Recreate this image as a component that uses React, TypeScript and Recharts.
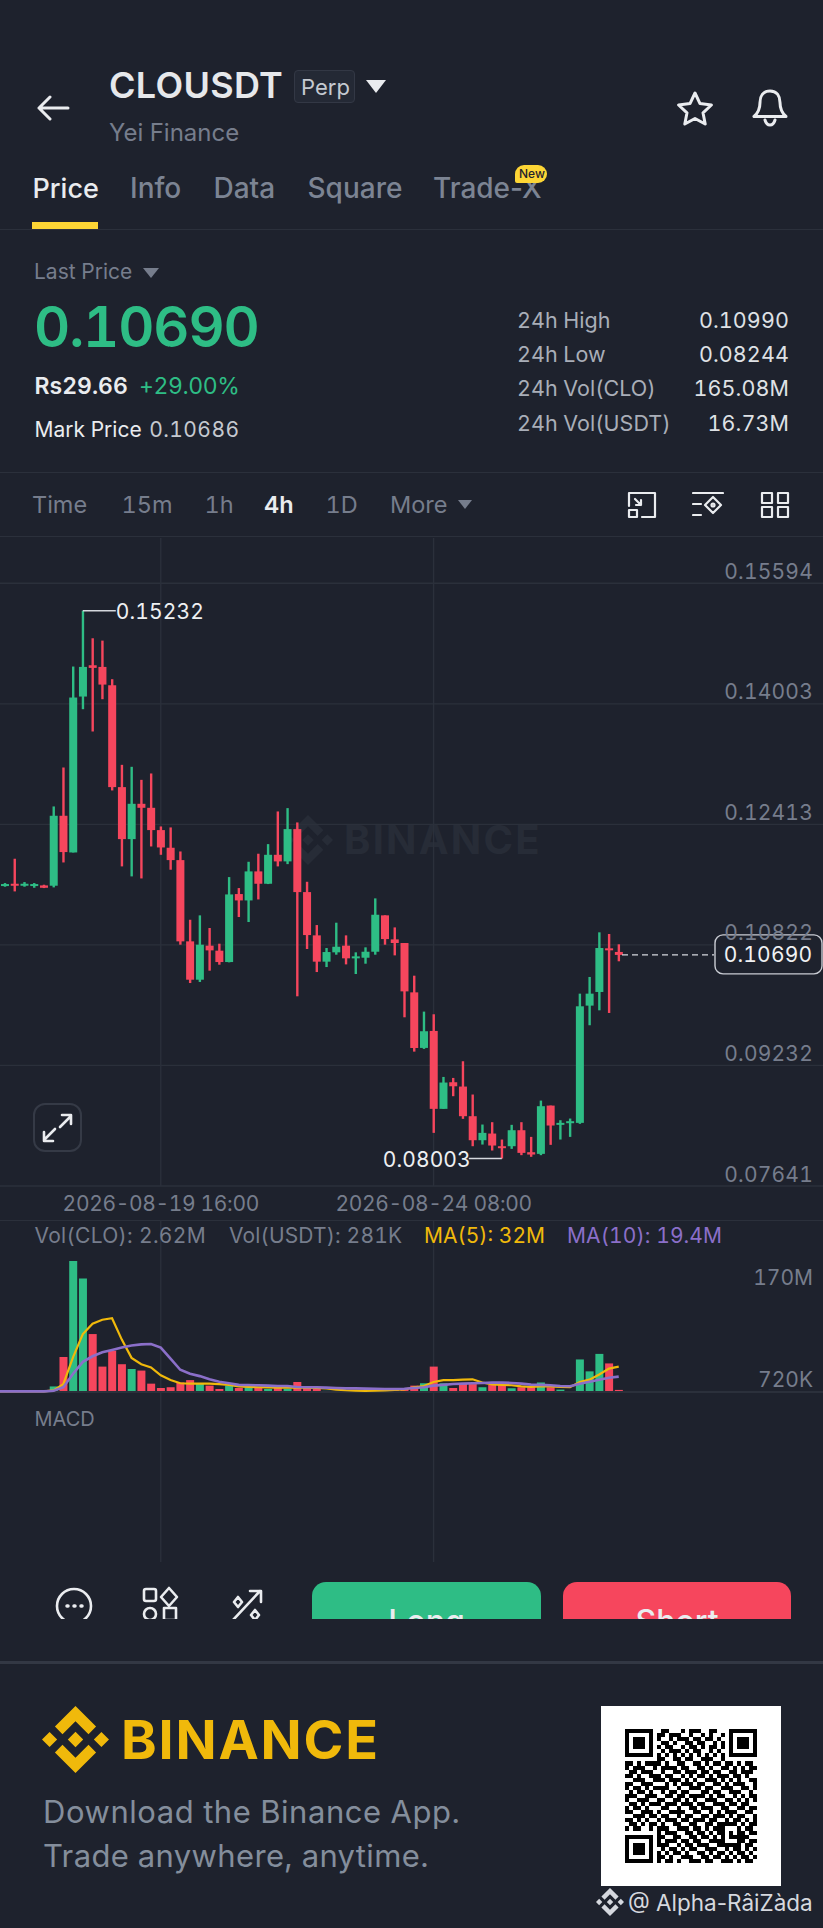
import React from "react";
import {
  Bar,
  CartesianGrid,
  Cell,
  ComposedChart,
  Line,
  ReferenceDot,
  ReferenceLine,
  XAxis,
  YAxis,
} from "recharts";

const BG = "#1e222d";
const GRID = "#2b303b";
const GREEN = "#2ebd85";
const RED = "#f6465d";
const MUTED = "#767d8c";
const FONT = "Inter, 'Noto Sans', sans-serif";

const times = [
  "08-16 20:00",
  "08-17 00:00", "08-17 04:00", "08-17 08:00", "08-17 12:00", "08-17 16:00", "08-17 20:00",
  "08-18 00:00", "08-18 04:00", "08-18 08:00", "08-18 12:00", "08-18 16:00", "08-18 20:00",
  "08-19 00:00", "08-19 04:00", "08-19 08:00", "08-19 12:00", "08-19 16:00", "08-19 20:00",
  "08-20 00:00", "08-20 04:00", "08-20 08:00", "08-20 12:00", "08-20 16:00", "08-20 20:00",
  "08-21 00:00", "08-21 04:00", "08-21 08:00", "08-21 12:00", "08-21 16:00", "08-21 20:00",
  "08-22 00:00", "08-22 04:00", "08-22 08:00", "08-22 12:00", "08-22 16:00", "08-22 20:00",
  "08-23 00:00", "08-23 04:00", "08-23 08:00", "08-23 12:00", "08-23 16:00", "08-23 20:00",
  "08-24 00:00", "08-24 04:00", "08-24 08:00", "08-24 12:00", "08-24 16:00", "08-24 20:00",
  "08-25 00:00", "08-25 04:00", "08-25 08:00", "08-25 12:00", "08-25 16:00", "08-25 20:00",
  "08-26 00:00", "08-26 04:00", "08-26 08:00", "08-26 12:00", "08-26 16:00", "08-26 20:00",
  "08-27 00:00", "08-27 04:00", "08-27 08:00", "08-27 12:00",
];

const opens = [
  0.11603,
  0.11603, 0.11629, 0.11607, 0.11603, 0.11607, 0.11603, 0.12526, 0.12042, 0.14099, 0.14512, 0.1449, 0.14248,
  0.12904, 0.12218, 0.12684, 0.12631, 0.12337, 0.12104, 0.11941, 0.10869, 0.10363, 0.10812, 0.10746, 0.10596,
  0.11493, 0.11409, 0.11792, 0.11629, 0.12011, 0.11924, 0.1235, 0.11519, 0.10948, 0.10601, 0.10724, 0.10812,
  0.10649, 0.10653, 0.10732, 0.11212, 0.10895, 0.10847, 0.10196, 0.09463, 0.09687, 0.08659, 0.0901, 0.08953,
  0.08562, 0.08245, 0.08333, 0.08166, 0.08166, 0.08377, 0.08087, 0.08065, 0.08702, 0.08452, 0.08474, 0.08474,
  0.10021, 0.10201, 0.10777, 0.10729,
];
const highs = [
  0.11638,
  0.11638, 0.11959, 0.11651, 0.11638, 0.11616, 0.12649, 0.13163, 0.14495, 0.15232, 0.14868, 0.14837, 0.14328,
  0.13198, 0.13172, 0.13, 0.13084, 0.12385, 0.12372, 0.12055, 0.11154, 0.11212, 0.11045, 0.10838, 0.11717,
  0.11572, 0.11919, 0.12025, 0.12152, 0.12583, 0.12627, 0.12438, 0.11655, 0.11084, 0.10781, 0.11115, 0.10948,
  0.10724, 0.1079, 0.11436, 0.11212, 0.11053, 0.10847, 0.10416, 0.09942, 0.09907, 0.0908, 0.09067, 0.09287,
  0.08848, 0.08452, 0.08483, 0.08254, 0.08448, 0.08483, 0.08289, 0.08768, 0.08702, 0.08509, 0.08531, 0.10179,
  0.10399, 0.10988, 0.10966, 0.1083,
];
const lows = [
  0.1159,
  0.1159, 0.11528, 0.1159, 0.11576, 0.11572, 0.11581, 0.1191, 0.12042, 0.13932, 0.13638, 0.14064, 0.1286,
  0.11858, 0.11726, 0.11699, 0.12121, 0.12011, 0.11814, 0.10825, 0.10319, 0.10333, 0.10482, 0.10561, 0.10592,
  0.1119, 0.11124, 0.11422, 0.11625, 0.11858, 0.11888, 0.10144, 0.10768, 0.10464, 0.1053, 0.10693, 0.10565,
  0.10438, 0.10574, 0.10693, 0.10825, 0.10684, 0.09867, 0.09414, 0.0945, 0.08342, 0.08659, 0.08826, 0.08527,
  0.08166, 0.08188, 0.08109, 0.08003, 0.08131, 0.08048, 0.08026, 0.08048, 0.08184, 0.08254, 0.08289, 0.08461,
  0.09762, 0.09959, 0.09924, 0.10606,
];
const closes = [
  0.11625,
  0.11625, 0.11603, 0.11629, 0.11625, 0.11576, 0.12526, 0.12047, 0.14086, 0.1449, 0.14477, 0.14257, 0.12904,
  0.12218, 0.12684, 0.12631, 0.12337, 0.12108, 0.11941, 0.10869, 0.10363, 0.10825, 0.1075, 0.10596, 0.11488,
  0.11409, 0.11792, 0.11629, 0.12011, 0.11924, 0.1235, 0.11519, 0.10952, 0.10601, 0.10728, 0.10798, 0.10645,
  0.10671, 0.10732, 0.1122, 0.10899, 0.10847, 0.10209, 0.09462, 0.09683, 0.08659, 0.09006, 0.08957, 0.08562,
  0.08245, 0.08342, 0.08175, 0.0814, 0.08377, 0.08078, 0.08056, 0.08694, 0.08439, 0.08474, 0.08496, 0.10012,
  0.10179, 0.10781, 0.10751, 0.1069,
];

// volume in millions
const volumes = [
  0.7, 0.7, 0.8, 0.7, 0.7, 0.8, 7, 44, 165, 143, 73, 32, 52, 35, 29, 27, 10.5, 5, 6, 12, 15, 10.5, 8, 3.8, 8, 5, 6, 6,
  3.8, 5, 4.2, 12.6, 6, 3.8, 1.4, 1.2, 1, 0.9, 1, 2.4, 3, 3, 5, 8, 11, 32, 11, 5, 10.5, 10, 6, 9, 9, 4.6, 6, 6, 12, 6, 3,
  1, 41, 26, 48, 36, 2.62,
];
const ma5 = [
  0.8, 0.8, 0.8, 0.8, 0.8, 0.8, 2, 10, 44, 73, 86, 91, 93, 66, 43, 35, 31, 21, 15, 11, 10.5, 10.5, 10.5, 10, 9, 7, 6.5,
  6, 5.8, 5.5, 5.5, 5.5, 5.5, 5.2, 4.5, 3, 2.2, 1.8, 1.5, 1.6, 2, 2.6, 3.2, 6, 7.5, 12.6, 15, 15, 15.5, 16, 12, 9.7, 9,
  8.5, 7, 6.3, 7, 7, 6.5, 6, 12.5, 15.5, 22, 29.5, 32,
];
const ma10 = [
  0.8, 0.8, 0.8, 0.8, 0.8, 0.8, 1.5, 6, 23, 38, 45, 50, 53, 56, 58.5, 60, 60.5, 56, 42, 28, 23, 20, 16, 13, 11, 9, 8.8,
  8.4, 8, 7.6, 7.6, 6.3, 6, 6, 5.5, 5, 4.6, 4.6, 4.2, 4, 3.8, 3.8, 4, 5, 6, 8, 9, 10, 10.5, 11, 11.4, 11.8, 11.8, 11.4,
  10.5, 9.3, 9, 8.4, 7.6, 7.2, 10.5, 13, 15.5, 18, 19.4,
];

const priceTicks = [0.15594, 0.14003, 0.12413, 0.10822, 0.09232, 0.07641];
const volumeTicks = [0.72, 170];
const volumeTickLabels = ["720K", "170M"];
const timeTicks = [times[17], times[45]];
const lastPrice = 0.1069;
const highPoint = { time: times[9], price: 0.15232 };
const lowPoint = { time: times[52], price: 0.08003 };

const tabs = ["Price", "Info", "Data", "Square", "Trade-X"];
const tabX = [32.5, 130, 213.5, 307.5, 433];
const frames = ["Time", "15m", "1h", "4h", "1D", "More"];
const frameX = [32, 121.5, 204.5, 264, 325.5, 390];
const statLabels = ["24h High", "24h Low", "24h Vol(CLO)", "24h Vol(USDT)"];
const statValues = ["0.10990", "0.08244", "165.08M", "16.73M"];
const statY = [321, 355, 389, 424];

const qrRows = [
  "111111100110001011100110001111111",
  "100000101101110010010100101000001",
  "101110101001011101101101001011101",
  "101110100110100110110010101011101",
  "101110101011001011010110101011101",
  "100000100101110101100101001000001",
  "111111101010101010101010101111111",
  "000000001100110110011100100000000",
  "110101111010011001101011011010110",
  "101110010111101100110100110101011",
  "011011100100110111011011001101110",
  "110100111011001010110101110110100",
  "001110011101110101001110101010011",
  "110011100010101110110011010111001",
  "101101011110010011101100111001101",
  "010110100101101100011011001110010",
  "111001110011011011110101100101011",
  "100111001100110101001110011010101",
  "011010111011101110110011101101100",
  "101101000110010011011100110011011",
  "110011101001111001100101011100110",
  "001110110110010110011011101011001",
  "110101001011101101110110010110101",
  "011010110100110011001101111101011",
  "101100101110011101101011100010110",
  "000000001011100110110101101011011",
  "111111101100110011011010101111100",
  "100000101011101101100111100011011",
  "101110101110010110111001111110110",
  "101110100101101011001110010110101",
  "101110101010110100110101101011010",
  "100000101101001110011011010101101",
  "111111101011010011101100111010110",
];

const candles = times.map((time, i) => ({
  time,
  open: opens[i],
  high: highs[i],
  low: lows[i],
  close: closes[i],
  volume: volumes[i],
  ma5: ma5[i],
  ma10: ma10[i],
}));

const LOGO =
  "M38.73 53.2L63.3 28.63l24.58 24.58 14.3-14.3L63.3 0 24.43 38.88z M0 63.31l14.3-14.3 14.3 14.3-14.3 14.3z M38.73 73.41l24.57 24.57 24.58-24.57 14.3 14.29-38.88 38.91-38.87-38.88z M98 63.31l14.3-14.3 14.31 14.3-14.31 14.3z M77.83 63.3L63.3 48.76 52.56 59.5l-1.24 1.23-2.54 2.54 14.52 14.5 14.53-14.54z";

function Txt({ x, y, size, color, weight = 400, right, spacing, plain, children }: any) {
  const pos = right !== undefined ? { right: 823 - right } : { left: x };
  return (
    <div
      style={{
        position: "absolute",
        ...pos,
        top: y,
        transform: "translateY(-50%)",
        fontFamily: FONT,
        fontSize: size,
        fontWeight: weight,
        color,
        letterSpacing: spacing,
        lineHeight: 1.2,
        whiteSpace: "nowrap",
        fontVariantNumeric: plain ? "normal" : "tabular-nums",
      }}
    >
      {children}
    </div>
  );
}

function Rule({ y, color = GRID, h = 1 }: any) {
  return <div style={{ position: "absolute", left: 0, top: y, width: 823, height: h, background: color }} />;
}

function Icon({ x, y, w, h, view, stroke = "#eaecef", sw = 2.4, children }: any) {
  return (
    <svg
      style={{ position: "absolute", left: x, top: y }}
      width={w}
      height={h}
      viewBox={view}
      fill="none"
      stroke={stroke}
      strokeWidth={sw}
      strokeLinecap="round"
      strokeLinejoin="round"
    >
      {children}
    </svg>
  );
}

function Candle(props: any) {
  const { x, y, width, height, payload } = props;
  const span = payload.high - payload.low;
  const px = span ? height / span : 0;
  const top = y + (payload.high - Math.max(payload.open, payload.close)) * px;
  const bodyH = Math.max(Math.abs(payload.open - payload.close) * px, 2);
  const color = payload.close >= payload.open ? GREEN : RED;
  return (
    <g>
      <rect x={x + width / 2 - 1.2} y={y} width={2.4} height={height} fill={color} />
      <rect x={x} y={top} width={width} height={bodyH} fill={color} />
    </g>
  );
}

function PriceTick({ y, payload }: any) {
  return (
    <text
      x={813}
      y={y - 12}
      textAnchor="end"
      dominantBaseline="central"
      fontSize={21}
      letterSpacing={0.2}
      fill={MUTED}
      fontFamily={FONT}
    >
      {payload.value.toFixed(5)}
    </text>
  );
}

function VolumeTick({ y, payload, index }: any) {
  return (
    <text
      x={813}
      y={index === 0 ? y - 12 : y + 20}
      textAnchor="end"
      dominantBaseline="central"
      fontSize={21}
      fill={MUTED}
      fontFamily={FONT}
    >
      {volumeTickLabels[index]}
    </text>
  );
}

function TimeTick({ x, y, payload }: any) {
  return (
    <text
      x={x}
      y={y + 9}
      textAnchor="middle"
      dominantBaseline="central"
      fontSize={21}
      letterSpacing={-0.35}
      fill={MUTED}
      fontFamily={FONT}
    >
      {"2026-" + payload.value}
    </text>
  );
}

function LastPriceMark({ y1 }: any) {
  return (
    <g>
      <line x1={622} x2={714} y1={y1} y2={y1} stroke="#d5d8de" strokeWidth={1.4} strokeDasharray="6 4" />
      <rect x={715} y={y1 - 20} width={107} height={39} rx={8} fill={BG} stroke="#c9ccd3" strokeWidth={1.4} />
      <text
        x={768}
        y={y1}
        textAnchor="middle"
        dominantBaseline="central"
        fontSize={21}
        letterSpacing={0.2}
        fill="#f0f1f3"
        fontFamily={FONT}
      >
        {lastPrice.toFixed(5)}
      </text>
    </g>
  );
}

function HighMark({ cx, cy }: any) {
  return (
    <g>
      <line x1={cx} x2={cx + 33} y1={cy} y2={cy} stroke="#d5d8de" strokeWidth={1.4} />
      <text
        x={cx + 33}
        y={cy + 1}
        dominantBaseline="central"
        fontSize={21}
        letterSpacing={0.1}
        fill="#eef0f2"
        fontFamily={FONT}
      >
        {highPoint.price.toFixed(5)}
      </text>
    </g>
  );
}

function LowMark({ cx, cy }: any) {
  return (
    <g>
      <line x1={cx} x2={cx - 33} y1={cy} y2={cy} stroke="#d5d8de" strokeWidth={1.4} />
      <text
        x={cx - 31}
        y={cy + 1}
        textAnchor="end"
        dominantBaseline="central"
        fontSize={21}
        letterSpacing={0.1}
        fill="#eef0f2"
        fontFamily={FONT}
      >
        {lowPoint.price.toFixed(5)}
      </text>
    </g>
  );
}

function PriceChart() {
  return (
    <div style={{ position: "absolute", left: 0, top: 538 }}>
      <ComposedChart width={823} height={688} data={candles} margin={{ top: 0, right: 0, bottom: 0, left: 0 }}>
        <CartesianGrid stroke={GRID} strokeWidth={1.4} syncWithTicks />
        <XAxis
          dataKey="time"
          ticks={timeTicks}
          interval={0}
          height={40}
          axisLine={false}
          tickLine={false}
          tick={<TimeTick />}
          padding={{ left: -9.74, right: 199.4 }}
        />
        <YAxis
          orientation="right"
          mirror
          domain={[0.07641, 0.16191]}
          ticks={priceTicks}
          interval={0}
          axisLine={false}
          tickLine={false}
          tick={<PriceTick />}
        />
        <Bar
          dataKey={(d: any) => [d.low, d.high]}
          barSize={8}
          shape={<Candle />}
          isAnimationActive={false}
        />
        <ReferenceDot x={highPoint.time} y={highPoint.price} shape={<HighMark />} />
        <ReferenceDot x={lowPoint.time} y={lowPoint.price} shape={<LowMark />} />
        <ReferenceLine y={lastPrice} shape={<LastPriceMark />} />
      </ComposedChart>
    </div>
  );
}

function VolumeChart() {
  return (
    <div style={{ position: "absolute", left: 0, top: 1220 }}>
      <ComposedChart width={823} height={342} data={candles} margin={{ top: 0, right: 0, bottom: 0, left: 0 }}>
        <CartesianGrid stroke={GRID} strokeWidth={1.4} horizontal={false} syncWithTicks />
        <XAxis dataKey="time" ticks={timeTicks} interval={0} height={0} hide padding={{ left: -9.74, right: 199.4 }} />
        <YAxis
          orientation="right"
          mirror
          domain={[-214.2, 216.7]}
          ticks={volumeTicks}
          interval={0}
          axisLine={false}
          tickLine={false}
          tick={<VolumeTick />}
        />
        <ReferenceLine y={0} stroke={GRID} strokeWidth={2} />
        <Bar dataKey="volume" barSize={8} isAnimationActive={false}>
          {candles.map((c) => (
            <Cell key={c.time} fill={c.close >= c.open ? GREEN : RED} />
          ))}
        </Bar>
        <Line dataKey="ma5" stroke="#f0b90b" strokeWidth={2.2} dot={false} isAnimationActive={false} />
        <Line dataKey="ma10" stroke="#8b6fc9" strokeWidth={2.6} dot={false} isAnimationActive={false} />
      </ComposedChart>
    </div>
  );
}

function Header() {
  return (
    <>
      <Icon x={36} y={95} w={34} h={26} view="0 0 34 26" sw={3}>
        <path d="M32 13H3M14 2L3 13l11 11" />
      </Icon>
      <Txt x={109} y={86} size={36} weight={600} color="#e6e8eb" spacing={0.3}>CLOUSDT</Txt>
      <div
        style={{
          position: "absolute",
          left: 294,
          top: 70,
          width: 61,
          height: 33,
          background: "#242935",
          border: "1px solid #333845",
          borderRadius: 4,
          boxSizing: "border-box",
        }}
      />
      <Txt x={301} y={87} size={22} color="#c5c9d0">Perp</Txt>
      <svg style={{ position: "absolute", left: 366, top: 80 }} width={20} height={13}>
        <path d="M0 0H20L10 13z" fill="#eaecef" />
      </svg>
      <Txt x={109} y={133} size={24} color={MUTED}>Yei Finance</Txt>
      <Icon x={676} y={90} w={38} h={36} view="0 0 38 36" sw={3}>
        <path d="M19 3l5 10.6 11.4 1.4-8.4 7.8 2.2 11.2L19 28.5 8.8 34l2.2-11.2L2.6 15 14 13.6z" />
      </Icon>
      <Icon x={751} y={88} w={38} h={40} view="0 0 38 40" sw={3}>
        <path d="M19 3c-7 0-10 5.5-10 11.5 0 7-2.5 11-6 14h32c-3.5-3-6-7-6-14C29 8.500 26 3 19 3zM14 32c1 3.500 3 5 5 5s4-1.500 5-5" />
      </Icon>

      {tabs.map((t, i) => (
        <Txt key={t} plain x={tabX[i]} y={189} size={i === 0 ? 27 : 28} weight={500} color={i === 0 ? "#eaecef" : "#7c8493"}>{t}</Txt>
      ))}
      <div style={{ position: "absolute", left: 515, top: 165, width: 32, height: 18, borderRadius: "9px 9px 9px 2px", background: "#fcd535" }} />
      <Txt x={519} y={174} size={12} weight={500} color="#1e222d">New</Txt>
      <div style={{ position: "absolute", left: 32, top: 222, width: 66, height: 7, background: "#fcd535" }} />
      <Rule y={229} />

      <Txt x={34} y={272} size={21} color={MUTED}>Last Price</Txt>
      <svg style={{ position: "absolute", left: 143, top: 268 }} width={16} height={10}>
        <path d="M0 0H16L8 10z" fill={MUTED} />
      </svg>
      <Txt x={34} y={328} size={56} weight={600} color={GREEN} spacing={-1.1}>0.10690</Txt>
      <Txt x={34.500} y={387} size={23} weight={600} color="#eaecef">Rs29.66</Txt>
      <Txt x={139} y={387} size={23} spacing={-0.4} color={GREEN}>+29.00%</Txt>
      <Txt x={34.500} y={430} size={21} color="#eaecef">
        Mark Price <span style={{ color: "#c5c9d0", marginLeft: 2, letterSpacing: 0.4 }}>0.10686</span>
      </Txt>
      {statLabels.map((s, i) => (
        <React.Fragment key={s}>
          <Txt x={517} y={statY[i]} size={21.5} color="#a9aeb8">{s}</Txt>
          <Txt right={789} y={statY[i]} size={21.5} spacing={0.1} color="#dfe1e5">{statValues[i]}</Txt>
        </React.Fragment>
      ))}
      <Rule y={472} />

      {frames.map((f, i) => (
        <Txt key={f} x={frameX[i]} y={505} size={23.5} weight={f === "4h" ? 600 : 400} color={f === "4h" ? "#eaecef" : MUTED}>{f}</Txt>
      ))}
      <svg style={{ position: "absolute", left: 458, top: 500 }} width={14} height={9}>
        <path d="M0 0H14L7 9z" fill={MUTED} />
      </svg>
      <Icon x={627} y={491} w={30} h={28} view="0 0 30 28" sw={2.2}>
        <path d="M2 15V2H28V26H15" />
        <rect x="2" y="19" width="8" height="7" />
        <path d="M8 8l6 6M14 9v5H9" />
      </Icon>
      <Icon x={692} y={491} w={32} h={28} view="0 0 32 28" sw={2.2}>
        <path d="M1 2H31M1 13H9M1 24H9" />
        <path d="M21 6l8 8-8 8-8-8z" />
        <circle cx="21" cy="14" r="1.500" />
      </Icon>
      <Icon x={760} y={491} w={30} h={28} view="0 0 30 28" sw={2.2}>
        <rect x="2" y="2" width="10" height="10" />
        <rect x="18" y="2" width="10" height="10" />
        <rect x="2" y="16" width="10" height="10" />
        <rect x="18" y="16" width="10" height="10" />
      </Icon>
      <Rule y={536} />
    </>
  );
}

function Watermark() {
  return (
    <>
      <svg style={{ position: "absolute", left: 283, top: 815 }} width={50} height={50} viewBox="0 0 126.61 126.61">
        <path d={LOGO} fill="#272c37" />
      </svg>
      <Txt x={344} y={840} size={40} weight={700} color="#272c37" spacing={2.2}>BINANCE</Txt>
    </>
  );
}

function ExpandButton() {
  return (
    <>
      <div
        style={{
          position: "absolute",
          left: 33,
          top: 1103,
          width: 49,
          height: 49,
          borderRadius: 12,
          border: "2px solid #353a46",
          boxSizing: "border-box",
        }}
      />
      <Icon x={42} y={1113} w={31} h={30} view="0 0 31 30" sw={2.6}>
        <path d="M18 14L29 3M20 2h9v9M13 16L2 27M2 19v9h9" />
      </Icon>
    </>
  );
}

function Toolbar() {
  const btn = {
    position: "absolute",
    top: 22,
    height: 70,
    borderRadius: 14,
    color: "#eaecef",
    fontFamily: FONT,
    fontSize: 32,
    fontWeight: 500,
    textAlign: "center",
    paddingTop: 20,
    boxSizing: "border-box",
  } as any;
  return (
    <div style={{ position: "absolute", left: 0, top: 1560, width: 823, height: 59, overflow: "hidden" }}>
      <Icon x={54} y={26} w={40} h={60} view="0 0 40 60" sw={2.6}>
        <circle cx="20" cy="20" r="17" />
        <path d="M13 20h1M20 20h1M27 20h1" strokeWidth={3.5} />
      </Icon>
      <Icon x={142} y={26} w={38} h={60} view="0 0 38 60" sw={2.6}>
        <rect x="2" y="3" width="12" height="12" rx="2" />
        <path d="M27 2l8 9-8 9-8-9z" />
        <circle cx="8" cy="28" r="6" />
        <rect x="22" y="22" width="12" height="12" />
      </Icon>
      <Icon x={230} y={28} w={36} h={60} view="0 0 36 60" sw={2.6}>
        <path d="M3 32L30 3M20 3h11v11" />
        <path d="M8 9l4 5-4 5-4-5zM25 22l4 5-4 5-4-5z" />
      </Icon>
      <div style={{ ...btn, left: 312, width: 229, background: GREEN }}>Long</div>
      <div style={{ ...btn, left: 563, width: 228, background: RED }}>Short</div>
    </div>
  );
}

function Footer() {
  return (
    <>
      <Rule y={1661} color="#333844" h={3} />
      <svg style={{ position: "absolute", left: 42, top: 1706 }} width={67} height={67} viewBox="0 0 126.61 126.61">
        <path d={LOGO} fill="#f0b90b" />
      </svg>
      <Txt x={121} y={1740} size={54} weight={700} color="#f0b90b" spacing={1.8}>BINANCE</Txt>
      <Txt x={43} y={1812} size={31} spacing={0.55} color="#848e9c">Download the Binance App.</Txt>
      <Txt x={43} y={1856} size={31} spacing={0.35} color="#848e9c">Trade anywhere, anytime.</Txt>
      <div style={{ position: "absolute", left: 601, top: 1706, width: 180, height: 180, background: "#fff" }} />
      <svg style={{ position: "absolute", left: 625, top: 1729 }} width={132} height={134} viewBox="0 0 33 33" preserveAspectRatio="none" shapeRendering="crispEdges">
        {qrRows.map((row, r) =>
          row.split("").map((v, c) => (v === "1" ? <rect key={r + "-" + c} x={c} y={r} width={1} height={1} fill="#000" /> : null))
        )}
      </svg>
      <svg style={{ position: "absolute", left: 596, top: 1888 }} width={28} height={28} viewBox="0 0 126.61 126.61">
        <path d={LOGO} fill="#d5d8de" />
      </svg>
      <Txt plain x={628} y={1902} size={22.5} color="#d5d8de">@ Alpha-RâiZàda</Txt>
    </>
  );
}

export default function App() {
  return (
    <div
      style={{
        position: "absolute",
        left: 0,
        top: 0,
        width: 823,
        height: 1928,
        overflow: "hidden",
        background: BG,
        fontVariantNumeric: "tabular-nums",
      }}
    >
      <Header />
      <Watermark />
      <PriceChart />
      <ExpandButton />
      <Rule y={1220} />
      <VolumeChart />
      <Txt x={34.500} y={1236} size={21} spacing={0.3} color={MUTED}>Vol(CLO): 2.62M</Txt>
      <Txt x={229} y={1236} size={21} spacing={0.15} color={MUTED}>Vol(USDT): 281K</Txt>
      <Txt x={424} y={1236} size={21} spacing={0} color="#f0b90b">MA(5): 32M</Txt>
      <Txt x={567} y={1236} size={21} spacing={0.1} color="#8b6fc9">MA(10): 19.4M</Txt>
      <Txt x={34.500} y={1419} size={20} color={MUTED}>MACD</Txt>
      <Toolbar />
      <Footer />
    </div>
  );
}
